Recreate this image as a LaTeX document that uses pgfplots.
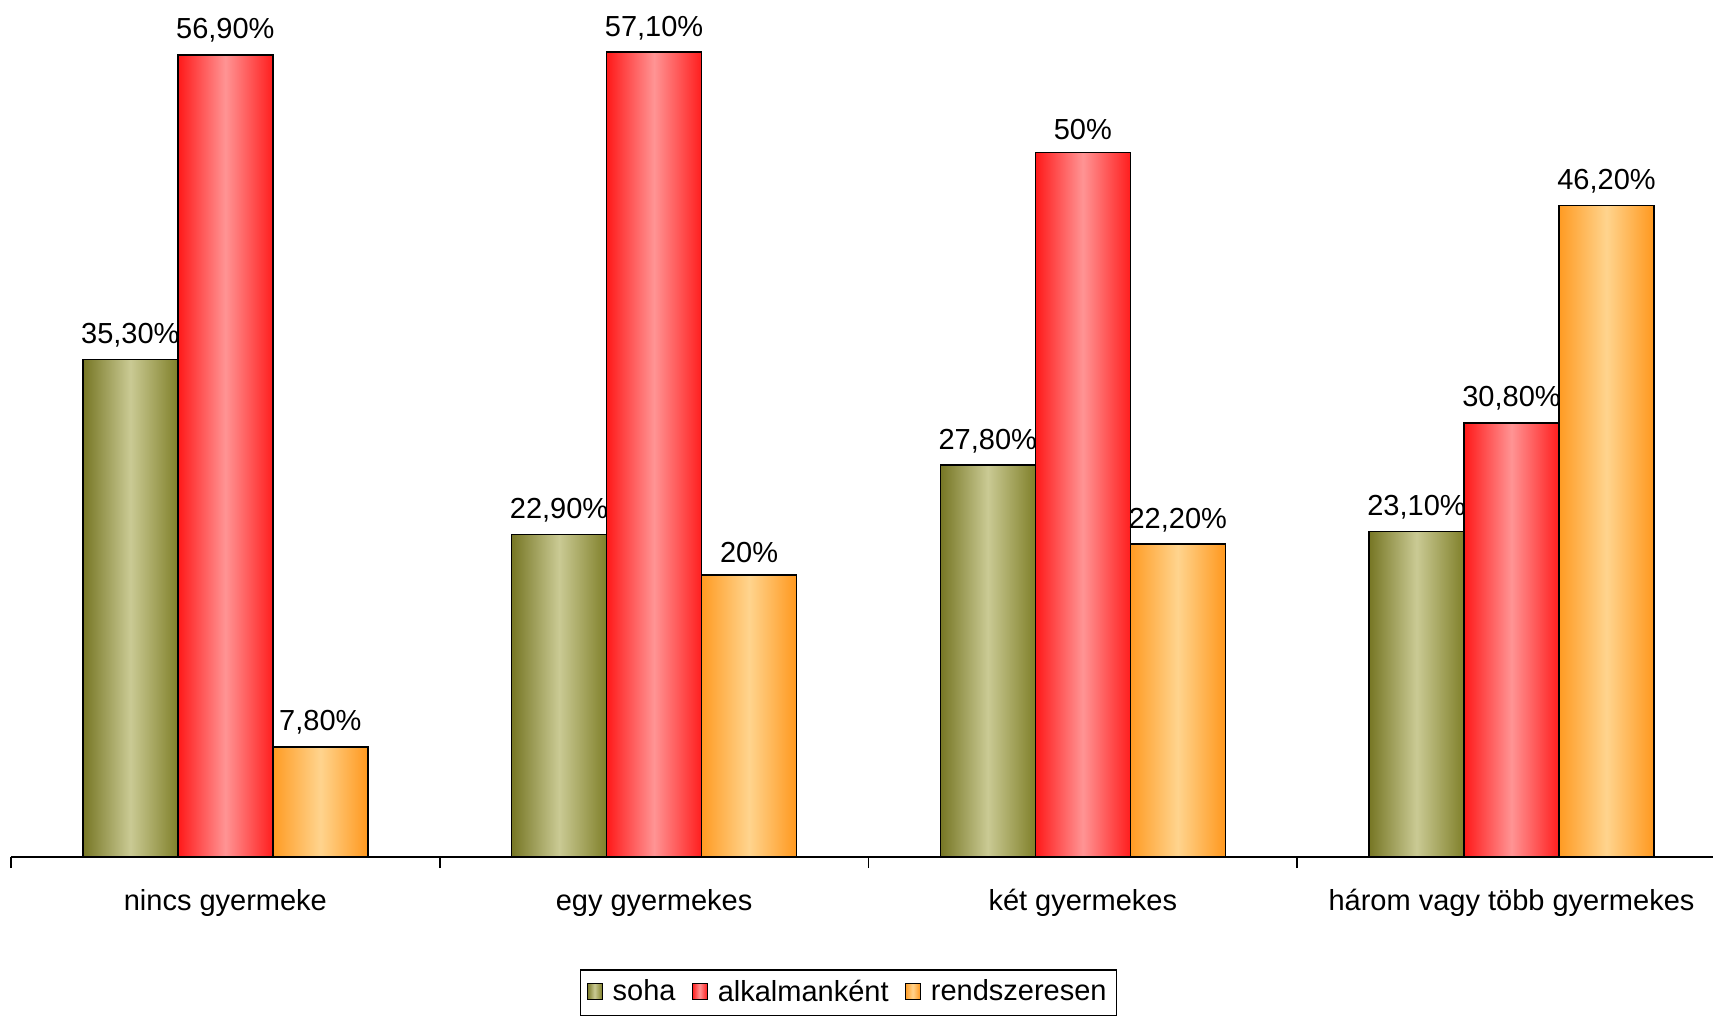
\documentclass[border=0pt]{standalone}
\usepackage{fontspec}
\setmainfont{Liberation Sans}
\usepackage{pgfplots}
\pgfplotsset{compat=1.18}
\definecolor{soL}{RGB}{118,118,36}
\definecolor{soM}{RGB}{202,202,148}
\definecolor{soR}{RGB}{128,128,42}
\definecolor{alL}{RGB}{255,25,25}
\definecolor{alM}{RGB}{255,148,148}
\definecolor{alR}{RGB}{255,30,30}
\definecolor{reL}{RGB}{255,155,35}
\definecolor{reM}{RGB}{255,212,142}
\definecolor{reR}{RGB}{255,152,30}
\pgfplotsset{
  sohastyle/.style={draw=black, line width=0.7pt, left color=soL, right color=soR, middle color=soM},
  alkstyle/.style={draw=black, line width=0.7pt, left color=alL, right color=alR, middle color=alM},
  rendstyle/.style={draw=black, line width=0.7pt, left color=reL, right color=reR, middle color=reM},
}
\begin{document}
\fontsize{14.5}{17.4}\selectfont
\begin{tikzpicture}
\begin{axis}[
  at={(0,0)}, anchor=south west,
  width=851pt, height=428.5pt, scale only axis,
  ybar, bar width=47.5pt,
  xmin=-0.5, xmax=3.47, ymin=0, ymax=60.8,
  enlargelimits=false, clip=false,
  axis y line=none, axis x line*=bottom,
  x axis line style={line width=0.8pt,-},
  xtick={0,1,2,3},
  xticklabels={nincs gyermeke,egy gyermekes,két gyermekes,három vagy több gyermekes},
  minor xtick={-0.5,0.5,1.5,2.5},
  major tick length=0pt, minor tick length=5.5pt,
  xtick align=outside, xtick pos=bottom,
  minor tick style={line width=0.8pt,black},
  xticklabel style={anchor=base, yshift=-26.5pt},
  point meta=explicit symbolic,
  nodes near coords,
  every node near coord/.append style={anchor=south, yshift=1pt, text=black},
  legend columns=-1,
  legend style={at={(0.4921,-0.1307)}, anchor=north, draw=black, line width=0.75pt,
    inner xsep=3pt, inner ysep=3pt,
    /tikz/every odd column/.append style={column sep=3pt},
    /tikz/every even column/.append style={column sep=6pt}},
  legend image code/.code={\draw[#1, line width=0.6pt] (0pt,-3.5pt) rectangle (7.5pt,4.5pt);},
]
% soha
\addplot[sohastyle, bar shift=-47.5pt, forget plot] coordinates {(0,35.3) [35,30\%]};
\addplot[sohastyle, bar shift=-47.5pt, forget plot] coordinates {(1,22.9) [22,90\%]};
\addplot[sohastyle, bar shift=-47.5pt, forget plot] coordinates {(2,27.8) [27,80\%]};
\addplot[sohastyle, bar shift=-47.5pt, forget plot] coordinates {(3,23.1) [23,10\%]};
% alkalmanként
\addplot[alkstyle, bar shift=0pt, forget plot] coordinates {(0,56.9) [56,90\%]};
\addplot[alkstyle, bar shift=0pt, forget plot] coordinates {(1,57.1) [57,10\%]};
\addplot[alkstyle, bar shift=0pt, forget plot] coordinates {(2,50) [50\%]};
\addplot[alkstyle, bar shift=0pt, forget plot] coordinates {(3,30.8) [30,80\%]};
% rendszeresen
\addplot[rendstyle, bar shift=47.5pt, forget plot] coordinates {(0,7.8) [7,80\%]};
\addplot[rendstyle, bar shift=47.5pt, forget plot] coordinates {(1,20) [20\%]};
\addplot[rendstyle, bar shift=47.5pt, forget plot] coordinates {(2,22.2) [22,20\%]};
\addplot[rendstyle, bar shift=47.5pt, forget plot] coordinates {(3,46.2) [46,20\%]};
\addlegendimage{sohastyle}
\addlegendentry{soha}
\addlegendimage{alkstyle}
\addlegendentry{alkalmanként}
\addlegendimage{rendstyle}
\addlegendentry{rendszeresen}
\end{axis}
\pgfresetboundingbox
\path (-5.5pt,-81pt) rectangle (851pt,428.5pt);
\end{tikzpicture}
\end{document}
